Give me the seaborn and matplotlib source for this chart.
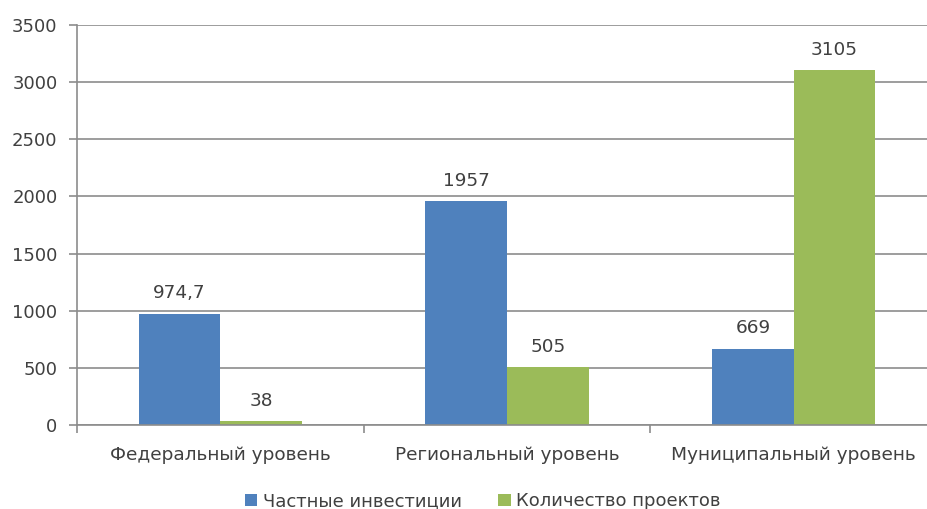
import matplotlib
matplotlib.use("Agg")
import matplotlib.pyplot as plt
import seaborn as sns
import pandas as pd
from matplotlib.ticker import FixedLocator

# Данные диаграммы
levels = ["Федеральный уровень", "Региональный уровень", "Муниципальный уровень"]
investments = [974.7, 1957, 669]
projects = [38, 505, 3105]
series_names = ["Частные инвестиции", "Количество проектов"]
value_labels_inv = ["974,7", "1957", "669"]
value_labels_proj = ["38", "505", "3105"]
y_ticks = [0, 500, 1000, 1500, 2000, 2500, 3000, 3500]

df = pd.DataFrame({
    "level": levels * 2,
    "value": investments + projects,
    "series": [series_names[0]] * 3 + [series_names[1]] * 3,
})

sns.set_theme(style="white")
plt.rcParams["font.family"] = ["DejaVu Sans"]
text_color = "#404040"
grid_color = "#8c8c8c"

fig = plt.figure(figsize=(9.28, 5.09), dpi=100)
ax = fig.add_axes([77 / 928, 84 / 509, 860 / 928, 400 / 509])

sns.barplot(
    data=df, x="level", y="value", hue="series",
    palette=["#4F81BD", "#9BBB59"], saturation=1, width=0.57, gap=0,
    linewidth=0, edgecolor="none", ax=ax, legend=True,
)

# Подписи значений над столбцами
for container, labels in zip(ax.containers, [value_labels_inv, value_labels_proj]):
    ax.bar_label(container, labels=labels, padding=8, fontsize=13.3, color=text_color)

ax.set_xlim(-0.5, 2.5)
ax.set_ylim(0, 3500)
ax.set_yticks(y_ticks)
ax.set_yticklabels([str(t) for t in y_ticks])
ax.yaxis.grid(True, color=grid_color, linewidth=1.2)
ax.set_axisbelow(True)
ax.set_xlabel("")
ax.set_ylabel("")

# Засечки по границам категорий
ax.xaxis.set_minor_locator(FixedLocator([-0.5, 0.5, 1.5]))
ax.tick_params(axis="x", which="major", length=0, pad=15, labelsize=13.3, labelcolor=text_color)
ax.tick_params(axis="x", which="minor", length=6, width=1.2, color=grid_color, bottom=True)
ax.tick_params(axis="y", length=6, width=1.2, color=grid_color, left=True, pad=8,
               labelsize=13, labelcolor=text_color)

for side in ["top", "right"]:
    ax.spines[side].set_visible(False)
for side in ["left", "bottom"]:
    ax.spines[side].set_color(grid_color)
    ax.spines[side].set_linewidth(1.2)

handles, labels = ax.get_legend_handles_labels()
ax.legend_.remove()
fig.legend(handles, labels, loc="center", bbox_to_anchor=(0.52, 0.015), ncol=2,
           frameon=False, fontsize=13, handlelength=0.7, handleheight=0.7,
           handletextpad=0.3, columnspacing=2.0, labelcolor=text_color)

fig.savefig("out.png", dpi=100)
plt.close(fig)
